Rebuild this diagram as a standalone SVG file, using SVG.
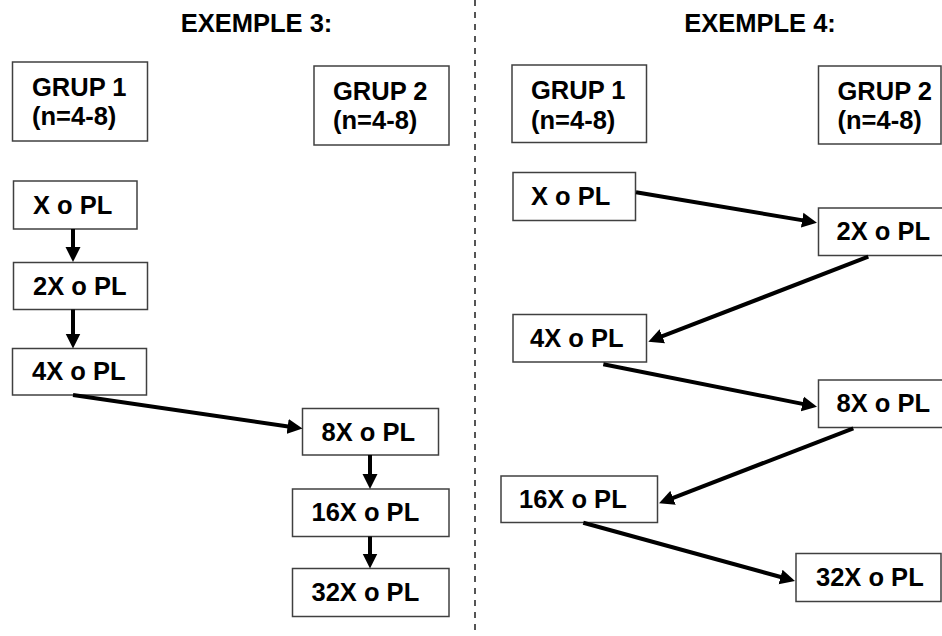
<svg xmlns="http://www.w3.org/2000/svg" width="942" height="636" viewBox="0 0 942 636">
<style>
.box{fill:#fff;stroke:#404040;stroke-width:1.5}
.t{font-family:"Liberation Sans",Arial,sans-serif;font-weight:bold;font-size:25.5px;fill:#000}
.c{stroke:#000;stroke-width:4;fill:none;marker-end:url(#ah)}
</style>
<defs>
<marker id="ah" markerUnits="userSpaceOnUse" markerWidth="16" markerHeight="16" refX="4" refY="7.5" orient="auto" viewBox="0 0 16 15">
<path d="M0,0 L15,7.5 L0,15 z" fill="#000"/>
</marker>
</defs>
<rect width="942" height="636" fill="#fff"/>
<line x1="475" y1="0" x2="475" y2="636" stroke="#555" stroke-width="2" stroke-dasharray="6,6"/>
<text class="t" x="256.5" y="32" text-anchor="middle">EXEMPLE 3:</text>
<text class="t" x="760" y="32" text-anchor="middle">EXEMPLE 4:</text>

<g id="e3-grup1"><rect class="box" x="12.5" y="62" width="135" height="79"/><text class="t" x="32" y="96">GRUP 1</text><text class="t" x="32" y="124.5">(n=4-8)</text></g>
<g id="e3-grup2"><rect class="box" x="314" y="66" width="135" height="79"/><text class="t" x="333" y="99.5">GRUP 2</text><text class="t" x="333" y="128.5">(n=4-8)</text></g>
<g id="e3-x"><rect class="box" x="13.5" y="181" width="123.5" height="48"/><text class="t" x="33" y="214">X o PL</text></g>
<g id="e3-2x"><rect class="box" x="13.5" y="262.5" width="134" height="47"/><text class="t" x="33" y="294.5">2X o PL</text></g>
<g id="e3-4x"><rect class="box" x="12.5" y="348.5" width="134" height="46.5"/><text class="t" x="32" y="380">4X o PL</text></g>
<g id="e3-8x"><rect class="box" x="302.5" y="408.5" width="136" height="46.5"/><text class="t" x="321.5" y="440.5">8X o PL</text></g>
<g id="e3-16x"><rect class="box" x="292.5" y="489" width="156.5" height="47.5"/><text class="t" x="311.5" y="520.5">16X o PL</text></g>
<g id="e3-32x"><rect class="box" x="292.5" y="568.5" width="156.5" height="48"/><text class="t" x="311.5" y="600.5">32X o PL</text></g>

<g id="e4-grup1"><rect class="box" x="512" y="65" width="134.5" height="77.5"/><text class="t" x="531" y="99">GRUP 1</text><text class="t" x="531" y="128.5">(n=4-8)</text></g>
<g id="e4-grup2"><rect class="box" x="818.5" y="66" width="122.5" height="78"/><text class="t" x="837.5" y="99.5">GRUP 2</text><text class="t" x="837.5" y="128.5">(n=4-8)</text></g>
<g id="e4-x"><rect class="box" x="513" y="172.5" width="122.5" height="48"/><text class="t" x="531" y="205">X o PL</text></g>
<g id="e4-2x"><rect class="box" x="818.5" y="208" width="130" height="47.5"/><text class="t" x="836.5" y="240">2X o PL</text></g>
<g id="e4-4x"><rect class="box" x="513" y="314.5" width="133.5" height="47.5"/><text class="t" x="530" y="346.5">4X o PL</text></g>
<g id="e4-8x"><rect class="box" x="818.5" y="380" width="130" height="47.5"/><text class="t" x="836.5" y="412">8X o PL</text></g>
<g id="e4-16x"><rect class="box" x="501" y="476" width="156.5" height="46.5"/><text class="t" x="519" y="508">16X o PL</text></g>
<g id="e4-32x"><rect class="box" x="796" y="553.5" width="145" height="48"/><text class="t" x="816" y="585.5">32X o PL</text></g>

<g id="connectors">
<line class="c" x1="73" y1="229" x2="73" y2="251"/>
<line class="c" x1="73" y1="309.5" x2="73" y2="337.5"/>
<line class="c" x1="73" y1="395" x2="291.6" y2="427"/>
<line class="c" x1="370" y1="455" x2="370" y2="478"/>
<line class="c" x1="370" y1="536.5" x2="370" y2="557.5"/>
<line class="c" x1="636" y1="192.3" x2="806.1" y2="220.9"/>
<line class="c" x1="868.3" y1="256.7" x2="658.6" y2="337.7"/>
<line class="c" x1="603.3" y1="364.3" x2="806.2" y2="404.6"/>
<line class="c" x1="853.3" y1="428.3" x2="669.3" y2="499.3"/>
<line class="c" x1="583.3" y1="522.7" x2="784.4" y2="578"/>
</g>
</svg>
